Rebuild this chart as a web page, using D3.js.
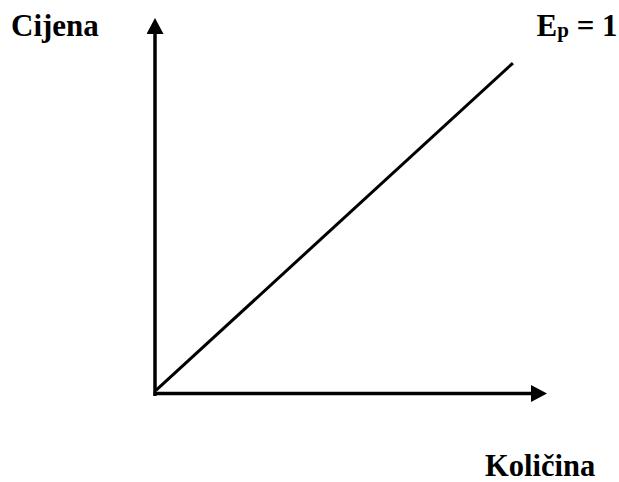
<!DOCTYPE html>
<html>
<head>
<meta charset="utf-8">
<script src="https://cdn.jsdelivr.net/npm/d3@7"></script>
<style>
  html, body { margin: 0; padding: 0; background: #fff; }
  svg { display: block; }
  text { font-family: "Liberation Serif", "Times New Roman", serif; font-weight: bold; fill: #000; }
</style>
</head>
<body>
<script>
// Data (axes in arbitrary units, 0..100)
const lineX = [0.3, 91.3];      // quantity values along the unit-elastic line
const lineY = [0.9, 88.0];      // price values along the unit-elastic line
const yAxisLabel = "Cijena";
const xAxisLabel = "Količina";
const curveLabelMain = "E";
const curveLabelSub = "p";
const curveLabelRest = " = 1";

const W = 619, H = 482;
const svg = d3.select("body").append("svg").attr("width", W).attr("height", H);

const x = d3.scaleLinear().domain([0, 100]).range([155, 547]);
const y = d3.scaleLinear().domain([0, 100]).range([393.5, 18]);

// arrow marker
const defs = svg.append("defs");
defs.append("marker")
  .attr("id", "arrow")
  .attr("viewBox", "0 0 16 17")
  .attr("refX", 2).attr("refY", 8.5)
  .attr("markerWidth", 16).attr("markerHeight", 17)
  .attr("markerUnits", "userSpaceOnUse")
  .attr("orient", "auto")
  .append("path").attr("d", "M0,0 L16,8.5 L0,17 Z").attr("fill", "#000");

function arrowLine(x1, y1, x2, y2) {
  const len = Math.hypot(x2 - x1, y2 - y1);
  const k = (len - 14) / len;
  svg.append("line")
    .attr("x1", x1).attr("y1", y1)
    .attr("x2", x1 + (x2 - x1) * k).attr("y2", y1 + (y2 - y1) * k)
    .attr("stroke", "#000").attr("stroke-width", 3.5)
    .attr("marker-end", "url(#arrow)");
}

// y axis (price)
arrowLine(x(0), y(0) + 2.5, x(0), y(100));
// x axis (quantity)
arrowLine(x(0) - 1.5, y(0), x(100), y(0));

// unit-elastic line
const pts = lineX.map((d, i) => [d, lineY[i]]);
svg.append("path")
  .datum(pts)
  .attr("d", d3.line().x(d => x(d[0])).y(d => y(d[1])))
  .attr("fill", "none").attr("stroke", "#000").attr("stroke-width", 3);

// labels
svg.append("text").attr("x", 11).attr("y", 35.5)
  .attr("font-size", 31).text(yAxisLabel);

svg.append("text").attr("x", 485).attr("y", 475.5)
  .attr("font-size", 30.5).text(xAxisLabel);

const t = svg.append("text").attr("x", 536.5).attr("y", 35.7).attr("font-size", 31);
t.append("tspan").text(curveLabelMain);
t.append("tspan").attr("font-size", 21).attr("dy", 1).text(curveLabelSub);
t.append("tspan").attr("dy", -1).text(curveLabelRest);
</script>
</body>
</html>
